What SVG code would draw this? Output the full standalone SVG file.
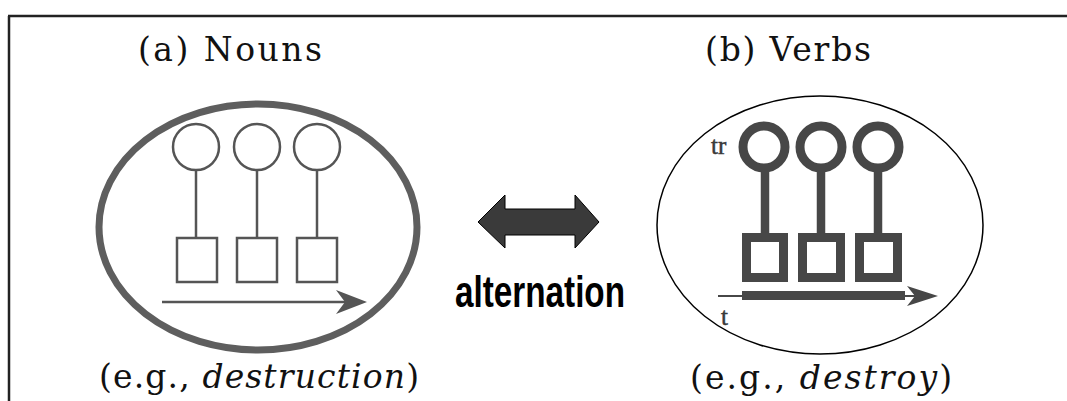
<svg xmlns="http://www.w3.org/2000/svg" width="1067" height="401" viewBox="0 0 1067 401">
<style>
.ttl{font-family:"DejaVu Serif","Liberation Serif",serif;font-size:33px;fill:#111}
.ex{font-family:"DejaVu Serif","Liberation Serif",serif;font-size:33px;fill:#111}
.it{font-style:italic}
.nl{fill:none;stroke:#555;stroke-width:2.5}
.vb{fill:none;stroke:#474747;stroke-width:9}
.lbl{font-family:"Liberation Serif","Times New Roman",serif;font-size:25px;fill:#3a3a3a;stroke:#3a3a3a;stroke-width:0.5}
</style>
<rect width="1067" height="401" fill="#fff"/>
<g id="frame">
<line x1="8" y1="16" x2="1067" y2="16" stroke="#222" stroke-width="2.5"/>
<line x1="9" y1="16" x2="9" y2="401" stroke="#222" stroke-width="2.5"/>
</g>
<g id="nouns">
<text class="ttl" x="138" y="61" textLength="184">(a) Nouns</text>
<ellipse cx="258" cy="227" rx="159" ry="123" fill="none" stroke="#5e5e5e" stroke-width="7"/>
<circle class="nl" cx="196" cy="147" r="23"/>
<circle class="nl" cx="257" cy="147" r="23"/>
<circle class="nl" cx="317" cy="147" r="23"/>
<line class="nl" x1="196" y1="170" x2="196" y2="238"/>
<line class="nl" x1="257" y1="170" x2="257" y2="238"/>
<line class="nl" x1="317" y1="170" x2="317" y2="238"/>
<rect class="nl" x="177" y="238" width="40" height="44"/>
<rect class="nl" x="237" y="238" width="40" height="44"/>
<rect class="nl" x="297" y="238" width="40" height="44"/>
<line class="nl" x1="162" y1="302" x2="350" y2="302"/>
<polygon points="367,302 336,290 345,302 336,314" fill="#555"/>
<text class="ex" x="99" y="388" textLength="320">(e.g., <tspan class="it">destruction</tspan>)</text>
</g>
<g id="verbs">
<text class="ttl" x="705" y="61" textLength="166">(b) Verbs</text>
<ellipse cx="820" cy="225" rx="163" ry="129" fill="none" stroke="#000" stroke-width="1.5"/>
<text class="lbl" x="711" y="154">tr</text>
<circle class="vb" cx="764" cy="147" r="21" stroke-width="10"/>
<circle class="vb" cx="821" cy="147" r="21" stroke-width="10"/>
<circle class="vb" cx="878" cy="147" r="21" stroke-width="10"/>
<line x1="765" y1="170" x2="765" y2="236" stroke="#474747" stroke-width="8.5"/>
<line x1="821" y1="170" x2="821" y2="236" stroke="#474747" stroke-width="8.5"/>
<line x1="878" y1="170" x2="878" y2="236" stroke="#474747" stroke-width="8.5"/>
<rect class="vb" x="746.5" y="237.5" width="37" height="40"/>
<rect class="vb" x="802.5" y="237.5" width="38" height="40"/>
<rect class="vb" x="859.5" y="237.5" width="38" height="40"/>
<line x1="718" y1="296" x2="915" y2="296" stroke="#474747" stroke-width="1.8"/>
<rect x="742" y="291" width="163" height="9" fill="#474747"/>
<polygon points="938,296 907,286 915,296 907,306" fill="#474747"/>
<text class="lbl" x="721" y="325">t</text>
<text class="ex" x="690" y="389" textLength="262">(e.g., <tspan class="it">destroy</tspan>)</text>
</g>
<g id="connectors">
<polygon points="478,222 505,195 505,209 575,209 575,195 599,222 575,248 575,235 505,235 505,248" fill="#3a3a3a" stroke="#000" stroke-width="1"/>
<text x="455" y="307" textLength="170" lengthAdjust="spacingAndGlyphs" style="font-family:'Liberation Sans',Arial,sans-serif;font-weight:bold;font-size:44px;fill:#000">alternation</text>
</g>
</svg>
